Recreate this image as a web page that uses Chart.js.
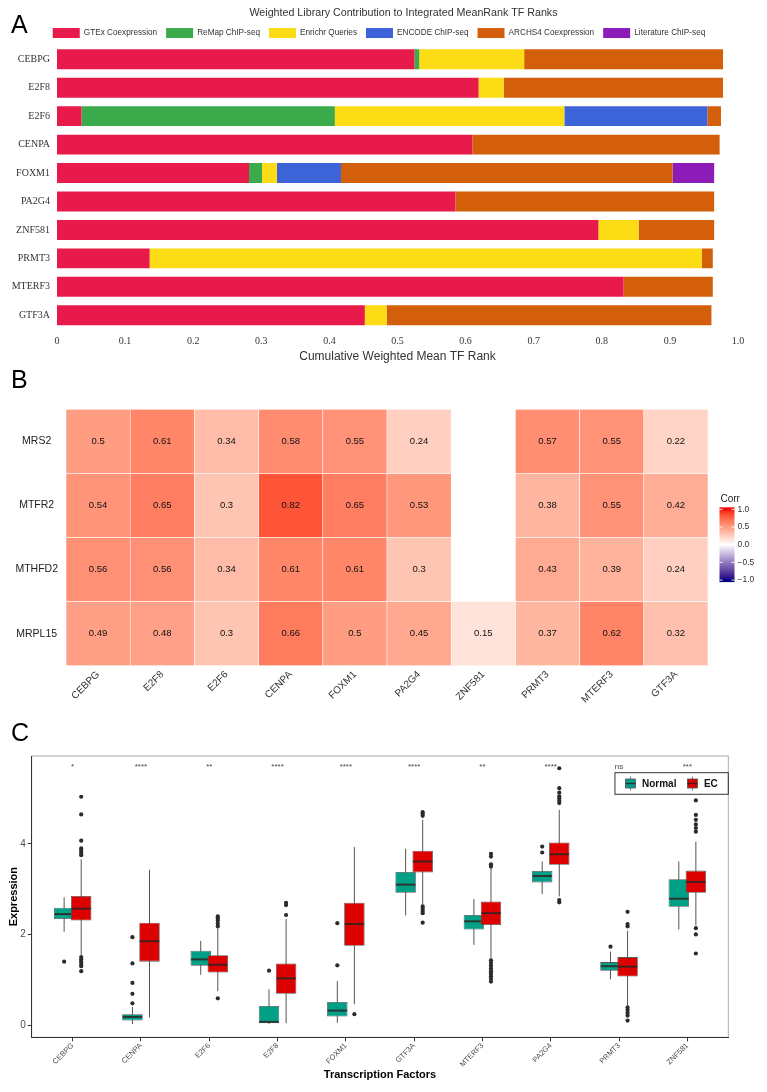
<!DOCTYPE html>
<html>
<head>
<meta charset="utf-8">
<script src="https://cdn.jsdelivr.net/npm/chart.js@4.4.1/dist/chart.umd.min.js"></script>
<style>
  html, body { margin: 0; padding: 0; background: #fff; }
  body { width: 767px; height: 1092px; position: relative; overflow: hidden; font-family: 'Liberation Sans', Arial, sans-serif; }
  canvas { position: absolute; left: 0; }
  .tag { position: absolute; left: 11px; font-size: 25px; line-height: 1; color: #000; }
</style>
</head>
<body>
<canvas id="chartA" width="767" height="372" style="top:0"></canvas>
<canvas id="chartB" width="767" height="350" style="top:372px"></canvas>
<canvas id="chartC" width="767" height="370" style="top:722px"></canvas>
<div class="tag" style="top:12px">A</div>
<div class="tag" style="top:367px">B</div>
<div class="tag" style="top:720px">C</div>
<script>
// ---- A) library contributions (stacked, each row sums to the mean rank)
const tfsA = ['CEBPG', 'E2F8', 'E2F6', 'CENPA', 'FOXM1', 'PA2G4', 'ZNF581', 'PRMT3', 'MTERF3', 'GTF3A'];
const libsA = ['GTEx Coexpression', 'ReMap ChIP-seq', 'Enrichr Queries', 'ENCODE ChIP-seq', 'ARCHS4 Coexpression', 'Literature ChIP-seq'];
const gtex       = [0.525, 0.619, 0.036, 0.610, 0.282, 0.585, 0.795, 0.136, 0.832, 0.452];
const remap      = [0.007, 0,     0.372, 0,     0.019, 0,     0,     0,     0,     0];
const enrichr    = [0.154, 0.037, 0.337, 0,     0.022, 0,     0.059, 0.811, 0,     0.032];
const encode     = [0,     0,     0.210, 0,     0.094, 0,     0,     0,     0,     0];
const archs4     = [0.292, 0.322, 0.020, 0.363, 0.487, 0.380, 0.111, 0.016, 0.131, 0.477];
const literature = [0,     0,     0,     0,     0.061, 0,     0,     0,     0,     0];
const xTicksA = ['0', '0.1', '0.2', '0.3', '0.4', '0.5', '0.6', '0.7', '0.8', '0.9', '1.0'];

// ---- B) correlation heatmap (null = not shown)
const tfsB = ['CEBPG', 'E2F8', 'E2F6', 'CENPA', 'FOXM1', 'PA2G4', 'ZNF581', 'PRMT3', 'MTERF3', 'GTF3A'];
const genesB = ['MRS2', 'MTFR2', 'MTHFD2', 'MRPL15'];
const corrMRS2   = [0.5,  0.61, 0.34, 0.58, 0.55, 0.24, null, 0.57, 0.55, 0.22];
const corrMTFR2  = [0.54, 0.65, 0.3,  0.82, 0.65, 0.53, null, 0.38, 0.55, 0.42];
const corrMTHFD2 = [0.56, 0.56, 0.34, 0.61, 0.61, 0.3,  null, 0.43, 0.39, 0.24];
const corrMRPL15 = [0.49, 0.48, 0.3,  0.66, 0.5,  0.45, 0.15, 0.37, 0.62, 0.32];
const corrTicks  = [1, 0.5, 0, -0.5, -1];
const corrTickLabels = ['1.0', '0.5', '0.0', '\u22120.5', '\u22121.0'];

// ---- C) expression boxplots
const tfsC = ['CEBPG', 'CENPA', 'E2F6', 'E2F8', 'FOXM1', 'GTF3A', 'MTERF3', 'PA2G4', 'PRMT3', 'ZNF581'];
const sigC = ['*', '****', '**', '****', '****', '****', '**', '****', 'ns', '***'];
const yTicksC = [0, 2, 4];
const nLow  = [2.06, 0.02, 1.11, 0.02, 0.05, 2.42, 1.77, 2.89, 1.01, 2.11];
const nQ1   = [2.34, 0.10, 1.31, 0.04, 0.19, 2.92, 2.11, 3.15, 1.20, 2.61];
const nMed  = [2.45, 0.18, 1.45, 0.07, 0.32, 3.10, 2.29, 3.29, 1.30, 2.79];
const nQ3   = [2.59, 0.24, 1.64, 0.42, 0.51, 3.38, 2.43, 3.40, 1.39, 3.22];
const nHigh = [2.82, 0.40, 1.86, 0.79, 0.97, 3.89, 2.78, 3.61, 1.62, 3.61];
const nOut  = [[1.40], [1.94, 1.36, 0.93, 0.69, 0.48], [], [1.20], [2.25, 1.32], [], [], [3.94, 3.81], [1.73], []];
const eLow  = [1.55, 0.17, 0.75, 0.04, 0.46, 2.66, 1.47, 2.84, 0.44, 2.20];
const eQ1   = [2.31, 1.40, 1.16, 0.69, 1.75, 3.37, 2.21, 3.54, 1.07, 2.92];
const eMed  = [2.57, 1.85, 1.33, 1.03, 2.23, 3.61, 2.47, 3.77, 1.29, 3.16];
const eQ3   = [2.85, 2.26, 1.54, 1.36, 2.70, 3.85, 2.73, 4.03, 1.50, 3.41];
const eHigh = [3.66, 3.43, 2.14, 2.34, 3.93, 4.53, 3.46, 4.75, 2.08, 4.05];
const eOut  = [
  [5.04, 4.65, 4.07, 3.90, 3.85, 3.80, 3.75, 1.50, 1.45, 1.40, 1.35, 1.30, 1.19],
  [],
  [2.40, 2.36, 2.31, 2.24, 2.18, 0.59],
  [2.70, 2.65, 2.43],
  [0.24],
  [4.70, 4.66, 4.62, 2.62, 2.57, 2.52, 2.47, 2.26],
  [3.78, 3.72, 3.55, 3.50, 1.43, 1.37, 1.31, 1.25, 1.19, 1.14, 1.08, 1.02, 0.96],
  [5.67, 5.23, 5.13, 5.05, 5.00, 4.95, 4.90, 2.76, 2.71],
  [2.50, 2.23, 2.18, 0.39, 0.33, 0.27, 0.21, 0.10],
  [4.96, 4.64, 4.53, 4.43, 4.35, 4.27, 2.14, 2.00, 1.58]
];

const SANS = "'Liberation Sans', Arial, sans-serif";
const SERIF = "'Liberation Serif', 'Times New Roman', serif";
Chart.defaults.font.family = SANS;
Chart.defaults.animation = false;

// ================= A
const libColors = ['#E8194B', '#3AAA4A', '#FCDC14', '#3D63D8', '#D35F0B', '#8C1BB8'];
const seriesA = [gtex, remap, enrichr, encode, archs4, literature];

// title/legend sit a little off from where Chart.js centres them
const nudgeHeader = {
  id: 'nudgeHeader',
  afterLayout(chart) {
    const lg = chart.legend, tb = chart.titleBlock;
    lg.left += 10; lg.right += 10;
    lg.top += 3; lg.bottom += 3;
    tb.left += 6; tb.right += 6;
  }
};

new Chart(document.getElementById('chartA'), {
  type: 'bar',
  data: {
    labels: tfsA,
    datasets: libsA.map((name, k) => ({
      label: name, data: seriesA[k], backgroundColor: libColors[k],
      borderWidth: 0, barPercentage: 0.7, categoryPercentage: 1
    }))
  },
  options: {
    indexAxis: 'y', responsive: false,
    layout: { padding: { top: 0, right: 29, left: 0, bottom: 0 } },
    scales: {
      x: {
        stacked: true, min: 0, max: 1,
        grid: { display: false, drawTicks: false }, border: { display: false },
        ticks: { stepSize: 0.1, padding: 6, color: '#333', font: { family: SERIF, size: 10 },
                 callback: (v, i) => xTicksA[i] },
        title: { display: true, text: 'Cumulative Weighted Mean TF Rank', color: '#333',
                 font: { size: 12 }, padding: { top: 0, bottom: 8 } },
        afterFit: s => { s.height = 42.5; }
      },
      y: {
        stacked: true,
        grid: { display: false, drawTicks: false }, border: { display: false },
        ticks: { padding: 7, color: '#333', font: { family: SERIF, size: 10 } },
        afterFit: s => { s.width = 57; }
      }
    },
    plugins: {
      title: { display: true, fullSize: false, text: 'Weighted Library Contribution to Integrated MeanRank TF Ranks',
               color: '#333', font: { size: 10.7, weight: 'normal' }, padding: { top: 6.3, bottom: -3.1 } },
      legend: { labels: { boxWidth: 27, boxHeight: 10, padding: 9, color: '#333', font: { size: 8.2 } } },
      tooltip: { enabled: false }
    }
  },
  plugins: [nudgeHeader]
});

// ================= B
// ggplot-like gradient2 (navy - white - red), interpolated in Lab
function hexToRgb(h) { return [1, 3, 5].map(k => parseInt(h.slice(k, k + 2), 16)); }
function toLab([r, g, b]) {
  const lin = c => { c /= 255; return c <= 0.04045 ? c / 12.92 : Math.pow((c + 0.055) / 1.055, 2.4); };
  const R = lin(r), G = lin(g), B = lin(b);
  const X = (0.4124 * R + 0.3576 * G + 0.1805 * B) / 0.95047;
  const Y = 0.2126 * R + 0.7152 * G + 0.0722 * B;
  const Z = (0.0193 * R + 0.1192 * G + 0.9505 * B) / 1.08883;
  const f = t => t > 0.008856 ? Math.cbrt(t) : 7.787 * t + 16 / 116;
  return [116 * f(Y) - 16, 500 * (f(X) - f(Y)), 200 * (f(Y) - f(Z))];
}
function fromLab([L, a, b]) {
  const fy = (L + 16) / 116, fx = fy + a / 500, fz = fy - b / 200;
  const fi = t => t * t * t > 0.008856 ? t * t * t : (t - 16 / 116) / 7.787;
  const X = fi(fx) * 0.95047, Y = fi(fy), Z = fi(fz) * 1.08883;
  const R = 3.2406 * X - 1.5372 * Y - 0.4986 * Z;
  const G = -0.9689 * X + 1.8758 * Y + 0.0415 * Z;
  const B = 0.0557 * X - 0.2040 * Y + 1.0570 * Z;
  const g = c => { c = Math.min(1, Math.max(0, c));
    return Math.round(255 * (c <= 0.0031308 ? 12.92 * c : 1.055 * Math.pow(c, 1 / 2.4) - 0.055)); };
  return `rgb(${g(R)},${g(G)},${g(B)})`;
}
const LAB_LOW = toLab(hexToRgb('#000080')), LAB_MID = toLab([255, 255, 255]), LAB_HIGH = toLab(hexToRgb('#F20D0A'));
function corrColor(v) {
  const t = Math.min(1, Math.abs(v)), end = v >= 0 ? LAB_HIGH : LAB_LOW;
  return fromLab(LAB_MID.map((m, k) => m + (end[k] - m) * t));
}

const cellText = {
  id: 'cellText',
  afterDatasetsDraw(chart) {
    const ctx = chart.ctx;
    ctx.save();
    ctx.font = `9.5px ${SANS}`;
    ctx.fillStyle = '#111'; ctx.textAlign = 'center'; ctx.textBaseline = 'middle';
    chart.data.datasets.forEach((ds, d) => {
      chart.getDatasetMeta(d).data.forEach((el, i) => {
        if (ds.corr[i] == null) return;
        ctx.fillText(String(ds.corr[i]), el.x, (el.y + el.base) / 2);
      });
    });
    ctx.restore();
  }
};

const corrBar = {
  id: 'corrBar',
  afterDraw(chart) {
    const { ctx, chartArea } = chart;
    const x0 = chartArea.right + 11.5, w = 15;
    const yTop = chartArea.top + 100, unit = 35.4;      // pixels per 1.0 of corr
    const yOf = v => yTop + (1 - v) * unit;
    ctx.save();
    const grad = ctx.createLinearGradient(0, yOf(1), 0, yOf(-1));
    for (let s = 0; s <= 40; s++) grad.addColorStop(s / 40, corrColor(1 - s / 20));
    ctx.fillStyle = grad;
    ctx.fillRect(x0, yOf(1) - 2, w, yOf(-1) - yOf(1) + 4);
    ctx.strokeStyle = 'rgba(255,255,255,0.9)'; ctx.lineWidth = 1;
    ctx.font = `8.5px ${SANS}`; ctx.fillStyle = '#333';
    ctx.textAlign = 'left'; ctx.textBaseline = 'middle';
    corrTicks.forEach((v, i) => {
      const y = yOf(v);
      ctx.beginPath();
      ctx.moveTo(x0, y); ctx.lineTo(x0 + 3, y);
      ctx.moveTo(x0 + w - 3, y); ctx.lineTo(x0 + w, y);
      ctx.stroke();
      ctx.fillText(corrTickLabels[i], x0 + w + 3, y);
    });
    ctx.font = `10px ${SANS}`; ctx.fillStyle = '#222';
    ctx.textBaseline = 'alphabetic';
    ctx.fillText('Corr', x0 + 1, yOf(1) - 7);
    ctx.restore();
  }
};

const rowsB = [corrMRS2, corrMTFR2, corrMTHFD2, corrMRPL15];
new Chart(document.getElementById('chartB'), {
  type: 'bar',
  data: {
    labels: tfsB,
    datasets: rowsB.map((vals, r) => ({
      label: genesB[r], corr: vals,
      data: vals.map(v => v == null ? null : [r, r + 1]),
      backgroundColor: vals.map(v => v == null ? 'rgba(0,0,0,0)' : corrColor(v)),
      borderColor: '#fff', borderWidth: 0.6, borderSkipped: false,
      grouped: false, barPercentage: 1, categoryPercentage: 1
    }))
  },
  options: {
    responsive: false,
    layout: { padding: { top: 37.3, right: 59, left: 0, bottom: 0 } },
    scales: {
      x: {
        grid: { display: false, drawTicks: false }, border: { display: false },
        ticks: { minRotation: 45, maxRotation: 45, padding: 3, color: '#333', font: { size: 10 } },
        afterFit: s => { s.height = 56.3; }
      },
      y: {
        min: 0, max: 4, reverse: true,
        grid: { display: false, drawTicks: false }, border: { display: false },
        afterBuildTicks: s => { s.ticks = genesB.map((_, r) => ({ value: r + 0.5 })); },
        ticks: { crossAlign: 'center', padding: 8, color: '#222', font: { size: 10.5 },
                 callback: v => genesB[Math.floor(v)] },
        afterFit: s => { s.width = 66; }
      }
    },
    plugins: { legend: { display: false }, tooltip: { enabled: false } }
  },
  plugins: [cellText, corrBar]
});

// ================= C
const DODGE = 0.125;
const boxSets = [
  { label: 'Normal', low: nLow, q1: nQ1, med: nMed, q3: nQ3, high: nHigh, out: nOut, color: '#00A087', shift: -DODGE, order: 1 },
  { label: 'EC',     low: eLow, q1: eQ1, med: eMed, q3: eQ3, high: eHigh, out: eOut, color: '#DC0000', shift: DODGE,  order: 0 }
];

const boxParts = {
  id: 'boxParts',
  beforeDraw(chart) {
    const { ctx, chartArea: a } = chart;
    ctx.save();
    ctx.strokeStyle = '#aaa'; ctx.lineWidth = 1;
    ctx.strokeRect(a.left, a.top, a.right - a.left, a.bottom - a.top);
    ctx.restore();
  },
  beforeDatasetDraw(chart, args) {
    const st = chart.data.datasets[args.index].stats, y = chart.scales.y, ctx = chart.ctx;
    ctx.save();
    ctx.strokeStyle = '#555'; ctx.lineWidth = 1;
    args.meta.data.forEach((bar, i) => {
      ctx.beginPath();
      ctx.moveTo(bar.x, y.getPixelForValue(st.low[i]));
      ctx.lineTo(bar.x, y.getPixelForValue(st.high[i]));
      ctx.stroke();
    });
    ctx.restore();
  },
  afterDatasetDraw(chart, args) {
    const st = chart.data.datasets[args.index].stats, y = chart.scales.y, ctx = chart.ctx;
    ctx.save();
    args.meta.data.forEach((bar, i) => {
      const ym = y.getPixelForValue(st.med[i]);
      ctx.strokeStyle = 'rgba(45,35,35,0.85)'; ctx.lineWidth = 2;
      ctx.beginPath();
      ctx.moveTo(bar.x - bar.width / 2 + 0.5, ym); ctx.lineTo(bar.x + bar.width / 2 - 0.5, ym);
      ctx.stroke();
      ctx.fillStyle = '#2b2b2b';
      st.out[i].forEach(v => {
        ctx.beginPath();
        ctx.arc(bar.x, y.getPixelForValue(v), 2.1, 0, Math.PI * 2);
        ctx.fill();
      });
    });
    ctx.restore();
  },
  afterDraw(chart) {
    const { ctx, chartArea: a, scales } = chart;
    ctx.save();
    // significance marks
    ctx.font = `8px ${SANS}`; ctx.fillStyle = '#444';
    ctx.textAlign = 'center'; ctx.textBaseline = 'alphabetic';
    sigC.forEach((s, i) => ctx.fillText(s, scales.x.getPixelForValue(i), scales.y.getPixelForValue(5.66)));
    // legend box
    ctx.font = `bold 10px ${SANS}`;
    const key = 10, gapKT = 6.5, gapItem = 11, pad = 10.5;
    const items = boxSets.map(s => ({ label: s.label, color: s.color, w: ctx.measureText(s.label).width }));
    const total = pad * 2 + items.reduce((t, it) => t + key + gapKT + it.w, 0) + gapItem * (items.length - 1);
    const bx = a.right - total, by = a.top + 16.7, bh = 21.6;
    ctx.strokeStyle = '#333'; ctx.lineWidth = 1;
    ctx.strokeRect(bx, by, total, bh);
    let cx = bx + pad;
    const cy = by + bh / 2;
    items.forEach(it => {
      ctx.strokeStyle = '#555'; ctx.lineWidth = 0.8;
      ctx.beginPath(); ctx.moveTo(cx + key / 2, cy - 7); ctx.lineTo(cx + key / 2, cy + 7); ctx.stroke();
      ctx.fillStyle = it.color;
      ctx.fillRect(cx, cy - 4.5, key, 9);
      ctx.strokeRect(cx, cy - 4.5, key, 9);
      ctx.strokeStyle = 'rgba(45,35,35,0.85)'; ctx.lineWidth = 1.5;
      ctx.beginPath(); ctx.moveTo(cx, cy); ctx.lineTo(cx + key, cy); ctx.stroke();
      ctx.fillStyle = '#111'; ctx.textAlign = 'left'; ctx.textBaseline = 'middle';
      ctx.fillText(it.label, cx + key + gapKT, cy + 0.5);
      cx += key + gapKT + it.w + gapItem;
    });
    ctx.restore();
  }
};

new Chart(document.getElementById('chartC'), {
  type: 'bar',
  data: {
    datasets: boxSets.map(s => ({
      label: s.label, order: s.order, stats: s,
      data: tfsC.map((_, i) => ({ x: i + s.shift, y: [s.q1[i], s.q3[i]] })),
      backgroundColor: s.color, borderColor: '#555', borderWidth: 0.8, borderSkipped: false,
      grouped: false, barPercentage: 1.2, categoryPercentage: 1
    }))
  },
  options: {
    responsive: false,
    layout: { padding: { top: 34, right: 38.7, left: 0, bottom: 0 } },
    scales: {
      x: {
        type: 'linear', min: -0.6, max: 9.6, offset: false,
        grid: { drawOnChartArea: false, offset: false, tickLength: 4, color: '#333' },
        border: { display: true, color: '#333', width: 1 },
        afterBuildTicks: s => { s.ticks = tfsC.map((_, i) => ({ value: i })); },
        ticks: { autoSkip: false, minRotation: 45, maxRotation: 45, padding: 0, color: '#4D4D4D',
                 font: { size: 7.5 }, callback: v => tfsC[v] },
        title: { display: true, text: 'Transcription Factors', color: '#000',
                 font: { size: 11, weight: 'bold' }, padding: { top: 0, bottom: 10.4 } },
        afterFit: s => { s.height = 54.7; }
      },
      y: {
        min: -0.27, max: 5.94,
        grid: { drawOnChartArea: false, tickLength: 4, color: '#333' },
        border: { display: true, color: '#333', width: 1 },
        afterBuildTicks: s => { s.ticks = yTicksC.map(v => ({ value: v })); },
        ticks: { padding: 2, color: '#4D4D4D', font: { size: 10 } },
        title: { display: true, text: 'Expression', color: '#000',
                 font: { size: 11, weight: 'bold' }, padding: { top: 6.9, bottom: 0 } },
        afterFit: s => { s.width = 31.7; }
      }
    },
    plugins: { legend: { display: false }, tooltip: { enabled: false } }
  },
  plugins: [boxParts]
});
</script>
</body>
</html>
